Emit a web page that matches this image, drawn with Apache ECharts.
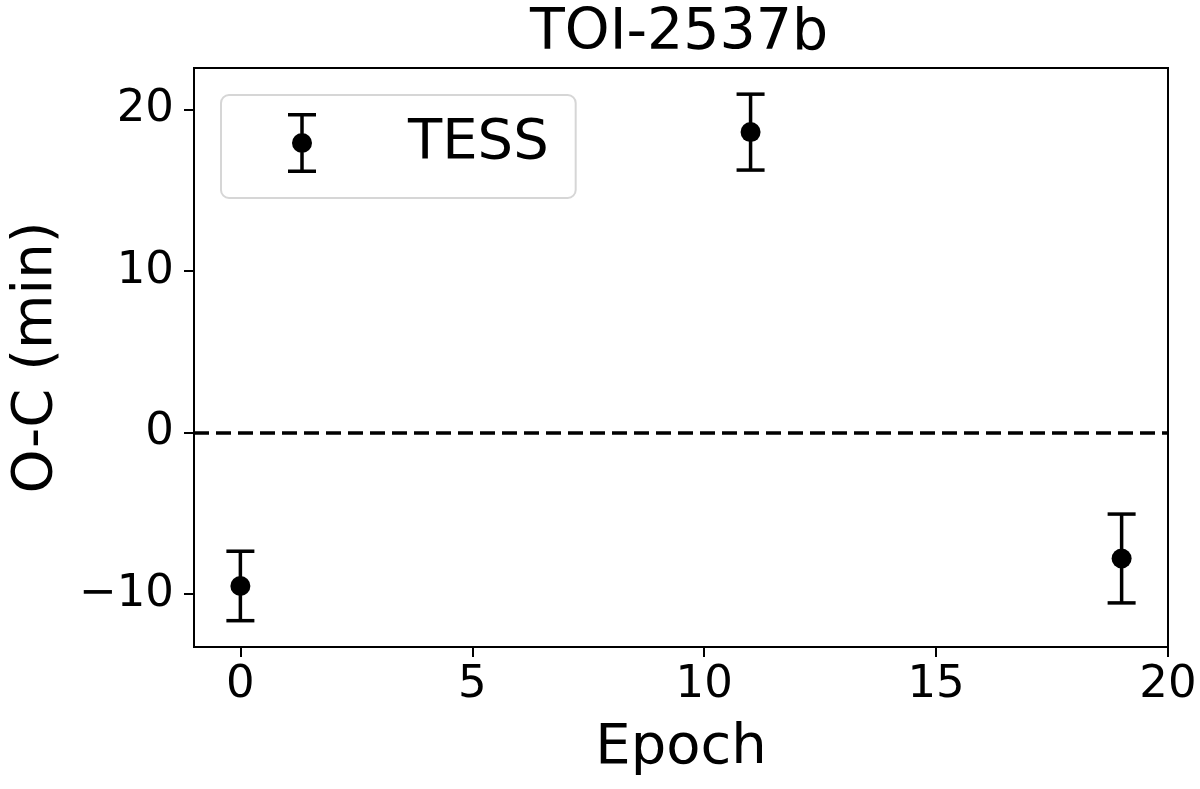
<!DOCTYPE html>
<html>
<head>
<meta charset="utf-8">
<script src="https://cdn.jsdelivr.net/npm/echarts@6/dist/echarts.min.js"></script>
<style>
  html, body { margin: 0; padding: 0; background: #fff; }
  #chart { width: 1200px; height: 789px; }
</style>
</head>
<body>
<div id="chart"></div>
<script>
// transit timing residuals
const epochs = [0, 11, 19];
const ocMin = [-9.5, 18.6, -7.8];
const ocErr = [2.15, 2.35, 2.75];
const xTicks = [0, 5, 10, 15, 20];
const yTicks = [-10, 0, 10, 20];

const FONT = 'DejaVu Sans';
// errorbar legend glyph: caps, stem, dot
const errIcon = 'path://M0,0H28V3.5H0Z M0,56.5H28V60H0Z M12.25,0H15.75V20.5H12.25Z M12.25,39.5H15.75V60H12.25Z M4,30A10,10 0 1,1 24,30A10,10 0 1,1 4,30Z';

const fmtTick = v => (v < 0 ? '\u2212' + Math.abs(v) : String(v));

const chart = echarts.init(document.getElementById('chart'), null, { renderer: 'canvas' });

const option = {
  animation: false,
  backgroundColor: '#fff',
  textStyle: { fontFamily: FONT, color: '#000' },
  title: {
    text: 'TOI-2537b',
    left: 530,
    top: 6,
    padding: 0,
    textStyle: { fontFamily: FONT, fontSize: 57, fontWeight: 'normal', color: '#000' }
  },
  grid: {
    show: true,
    left: 192, right: 32, top: 68, bottom: 142,
    borderColor: '#000', borderWidth: 2,
    backgroundColor: '#fff'
  },
  legend: {
    data: [{ name: 'TESS', icon: errIcon, itemStyle: { color: '#000', opacity: 1 } }],
    left: 221,
    top: 95,
    orient: 'vertical',
    itemWidth: 28,
    itemHeight: 60,
    padding: [18, 27, 25, 67],
    backgroundColor: '#fff',
    borderColor: '#d6d6d6',
    borderWidth: 2,
    borderRadius: 8,
    selectedMode: false,
    textStyle: { fontFamily: FONT, fontSize: 56, color: '#000', padding: [0, 0, 0, 87] }
  },
  xAxis: {
    type: 'value',
    min: -1,
    max: 20,
    name: 'Epoch',
    nameLocation: 'middle',
    nameGap: 73,
    nameTextStyle: { fontFamily: FONT, fontSize: 56, color: '#000' },
    splitLine: { show: false },
    axisLine: { show: true, onZero: false, lineStyle: { color: '#000', width: 2 } },
    axisTick: { show: true, length: 10, lineStyle: { color: '#000', width: 2 }, customValues: xTicks },
    axisLabel: { fontFamily: FONT, fontSize: 45, color: '#000', margin: 16, customValues: xTicks, formatter: fmtTick }
  },
  yAxis: {
    type: 'value',
    min: -13.28,
    max: 22.57,
    name: 'O-C (min)',
    nameLocation: 'middle',
    nameRotate: 90,
    nameGap: 130,
    nameTextStyle: { fontFamily: FONT, fontSize: 56, color: '#000' },
    splitLine: { show: false },
    axisLine: { show: true, onZero: false, lineStyle: { color: '#000', width: 2 } },
    axisTick: { show: true, length: 10, lineStyle: { color: '#000', width: 2 }, customValues: yTicks },
    axisLabel: { fontFamily: FONT, fontSize: 45, color: '#000', margin: 20, customValues: yTicks, formatter: fmtTick }
  },
  series: [
    {
      name: 'TESS err',
      type: 'custom',
      silent: true,
      z: 3,
      encode: { x: 0, y: 1 },
      data: epochs.map((e, i) => [e, ocMin[i], ocErr[i]]),
      renderItem: function (params, api) {
        const x = api.value(0), y = api.value(1), err = api.value(2);
        const hi = api.coord([x, y + err]);
        const lo = api.coord([x, y - err]);
        const hw = 14;
        const st = { stroke: '#000', lineWidth: 3.5 };
        return {
          type: 'group',
          children: [
            { type: 'line', shape: { x1: hi[0], y1: hi[1], x2: lo[0], y2: lo[1] }, style: st },
            { type: 'line', shape: { x1: hi[0] - hw, y1: hi[1], x2: hi[0] + hw, y2: hi[1] }, style: st },
            { type: 'line', shape: { x1: lo[0] - hw, y1: lo[1], x2: lo[0] + hw, y2: lo[1] }, style: st }
          ]
        };
      }
    },
    {
      name: 'TESS',
      type: 'scatter',
      z: 4,
      symbol: 'circle',
      symbolSize: 20,
      itemStyle: { color: '#000', opacity: 1 },
      data: epochs.map((e, i) => [e, ocMin[i]]),
      markLine: {
        silent: true,
        symbol: 'none',
        label: { show: false },
        lineStyle: { color: '#000', width: 3.5, type: [15, 7], opacity: 1 },
        data: [{ yAxis: 0 }]
      }
    }
  ]
};

chart.setOption(option);
</script>
</body>
</html>
